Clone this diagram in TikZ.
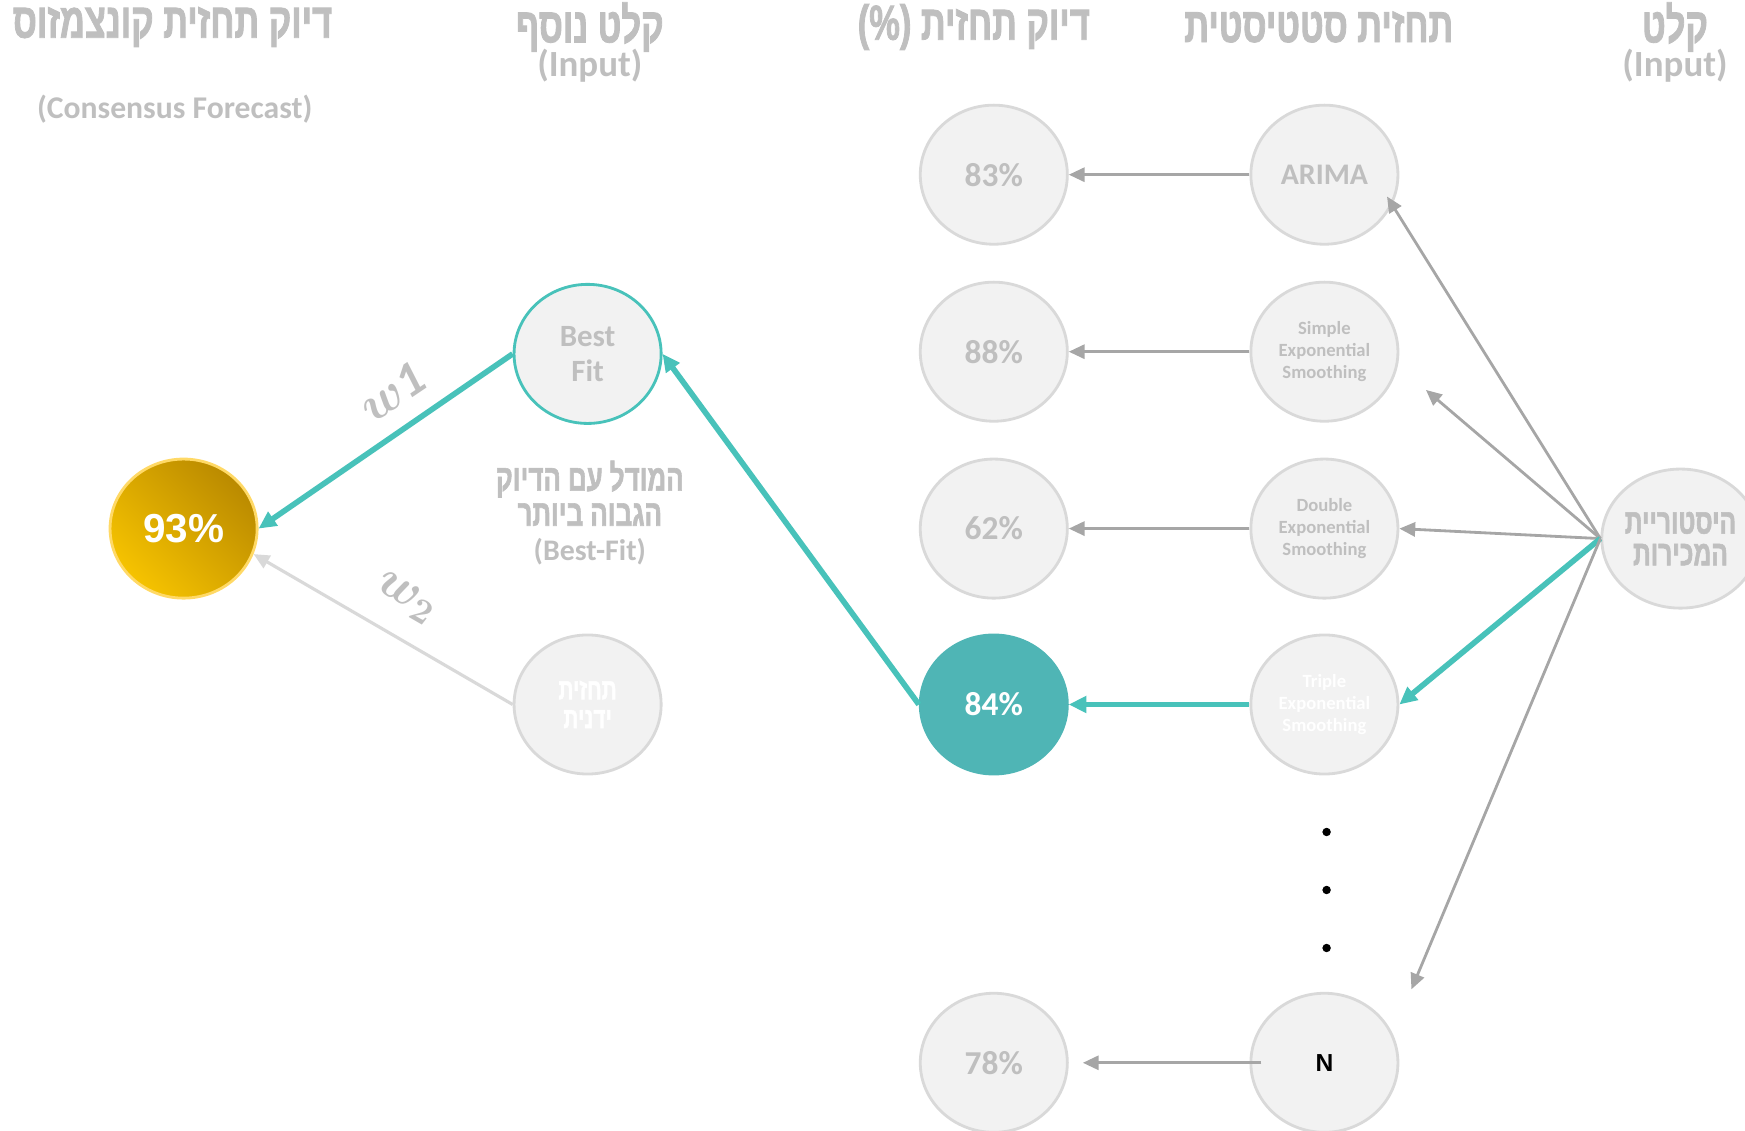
\documentclass[tikz,border=0pt]{standalone}
\usepackage{fontspec}
\setmainfont{Carlito}
\newfontfamily\hebfont[Script=Hebrew,FakeStretch=0.7,FakeBold=1.6,UprightFont=*-Bold,BoldFont=*-Bold]{Liberation Sans}
\newfontfamily\arialfont{Liberation Sans}
\usetikzlibrary{shapes.geometric,arrows.meta}
\TeXXeTstate=1

\definecolor{txtgrey}{HTML}{BFBFBF}
\definecolor{nodefill}{HTML}{F2F2F2}
\definecolor{nodeline}{HTML}{D9D9D9}
\definecolor{arrgrey}{HTML}{A6A6A6}
\definecolor{lightarr}{HTML}{D9D9D9}
\definecolor{tealc}{HTML}{48C2BA}
\definecolor{tealfill}{HTML}{4FB5B5}
\definecolor{goldA}{HTML}{F6C300}
\definecolor{goldB}{HTML}{BA8A00}
\definecolor{goldrim}{HTML}{FFD966}

\newcommand{\heb}[1]{{\hebfont\beginR #1\endR}}
\newcommand{\fsz}[2]{\fontsize{#1}{#2}\selectfont}

\tikzset{
  model/.style={ellipse,minimum width=1.47cm,minimum height=1.39cm,inner sep=0pt,
    fill=nodefill,draw=nodeline,line width=0.8pt,text=txtgrey,align=center},
  hdr/.style={text=txtgrey,align=center,inner sep=0pt},
  greyarr/.style={draw=arrgrey,line width=0.8pt,-{Triangle[length=4.5pt,width=4pt]}},
  tealarr/.style={draw=tealc,line width=1.6pt,-{Triangle[length=5pt,width=4.6pt]}},
  weakarr/.style={draw=lightarr,line width=0.9pt,-{Triangle[length=4.5pt,width=4pt]}},
}

\begin{document}
\begin{tikzpicture}[x=0.01cm,y=-0.01cm]
        \useasboundingbox (0,0) rectangle (1745,1131);

        % column titles
        \node[hdr,font=\bfseries\fsz{14}{14}] (tCons) at (172.5,27) {\heb{דיוק תחזית קונצמזוס}};
        \node[hdr,font=\bfseries\fsz{9}{9}] (tConsEn) at (174.7,109) {(Consensus Forecast)};
        \node[hdr,font=\bfseries\fsz{14}{14}] (tExtra) at (589.8,27) {\heb{קלט נוסף}};
        \node[hdr,font=\bfseries\fsz{10.5}{10.5}] (tExtraEn) at (589.8,65.5) {(Input)};
        \node[hdr,font=\bfseries\fsz{14}{14}] (tAcc) at (973.8,27) {\heb{דיוק תחזית \beginL(\%)\endL}};
        \node[hdr,font=\bfseries\fsz{14}{14}] (tStat) at (1318.8,27) {\heb{תחזית סטטיסטית}};
        \node[hdr,font=\bfseries\fsz{14}{14}] (tIn) at (1675,27) {\heb{קלט}};
        \node[hdr,font=\bfseries\fsz{10.5}{10.5}] (tInEn) at (1675,65.5) {(Input)};

        % statistical models
        \node[model,font=\bfseries\fsz{8.5}{9}] (arima) at (1324.4,174.7) {ARIMA};
        \node[model,font=\bfseries\fsz{5.3}{6.3}] (simple) at (1324.4,351.7) {Simple\\Exponential\\Smoothing};
        \node[model,font=\bfseries\fsz{5.3}{6.3}] (double) at (1324.4,528.6) {Double\\Exponential\\Smoothing};
        \node[model,font=\bfseries\fsz{5.3}{6.3},text=white] (triple) at (1324.4,704.5) {Triple\\Exponential\\Smoothing};
        \node[model,font=\arialfont\bfseries\fsz{7}{7},text=black] (nmod) at (1324.4,1062.8) {N};
        \foreach \y in {832,890,948}
            \fill (1326.6,\y) circle[radius=1.2pt];

        % accuracy
        \node[model,font=\bfseries\fsz{9.5}{9.5}] (p83) at (993.8,174.7) {83\%};
        \node[model,font=\bfseries\fsz{9.5}{9.5}] (p88) at (993.8,351.7) {88\%};
        \node[model,font=\bfseries\fsz{9.5}{9.5}] (p62) at (993.8,528.6) {62\%};
        \node[model,font=\bfseries\fsz{9.5}{9.5},fill=tealfill,draw=tealfill,text=white] (p84) at (993.8,704.5) {84\%};
        \node[model,font=\bfseries\fsz{9.5}{9.5}] (p78) at (993.8,1062.8) {78\%};

        % input
        \node[model,font=\bfseries\fsz{10}{9}] (hist) at (1680.5,538.6) {\heb{היסטוריית}\\\heb{המכירות}};

        % extra input and consensus
        \node[model,draw=tealc,font=\bfseries\fsz{8.8}{9.8}] (bestfit) at (587.6,353.9) {Best\\Fit};
        \node[model,text=white,font=\bfseries\fsz{8.5}{8.2}] (manual) at (587.6,704.5) {\heb{תחזית}\\\heb{ידנית}};
        \node[hdr,font=\bfseries\fsz{10.5}{10}] (bfnote) at (589.8,513) {\heb{המודל עם הדיוק}\\\heb{הגבוה ביותר}\\{\fsz{8.5}{10}(Best-Fit)}};
        \node[model,top color=goldB,bottom color=goldA,shading angle=-45,draw=goldrim,
              text=white,font=\arialfont\bfseries\fsz{11.5}{11.5}] (p93) at (183.6,528.6) {93\%};

        \draw[greyarr] (arima.west) -- (p83.east);
        \draw[greyarr] (simple.west) -- (p88.east);
        \draw[greyarr] (double.west) -- (p62.east);
        \draw[tealarr] (triple.west) -- (p84.east);
        \draw[greyarr,shorten <=-3.4pt,shorten >=4pt] (nmod.west) -- (p78.east);

        \draw[greyarr,shorten >=-2.8pt] (hist.west) -- (arima.-24);
        \draw[greyarr,shorten >=10.5pt] (hist.west) -- (simple.-11);
        \draw[greyarr] (hist.west) -- (double.east);
        \draw[tealarr] (hist.west) -- (triple.east);
        \draw[greyarr,shorten >=13.7pt] (hist.west) -- (nmod.23);

        \draw[tealarr] (p84.west) -- (bestfit.east);
        \draw[tealarr] (bestfit.west) -- (p93.east);
        \draw[weakarr] (manual.west) -- (p93.-20);

        \node[text=txtgrey,rotate=34,font=\boldmath\fsz{14}{14}] (wOne) at (391.7,392) {$w\mathit{1}$};
        \node[text=txtgrey,rotate=-30,font=\boldmath\fsz{14}{14}] (wTwo) at (406,598) {$w_2$};
    \end{tikzpicture}
\end{document}
